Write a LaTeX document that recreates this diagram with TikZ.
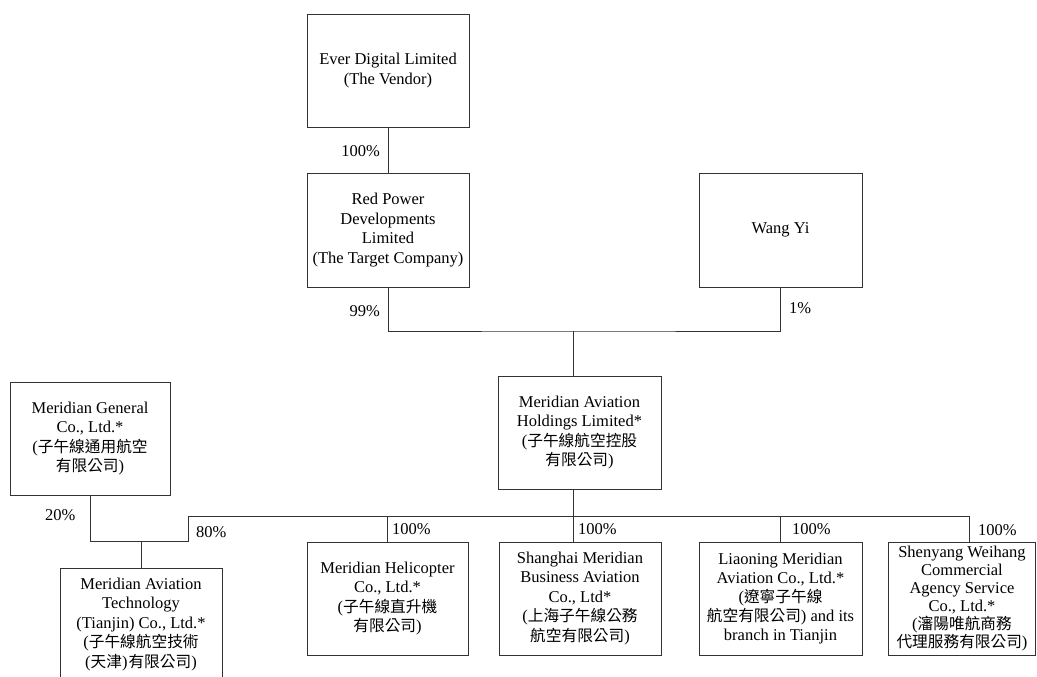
\documentclass[tikz,border=0pt]{standalone}
\usepackage{fontspec}
\setmainfont{Liberation Serif}
\newfontfamily\cjk[Scale=0.95]{Noto Sans CJK TC}

\begin{document}
\begin{tikzpicture}[x=1pt, y=-1pt]
    % Define styles
    \tikzset{
        entity/.style={
            draw=black!80,
            line width=0.8pt,
            minimum width=162pt,
            minimum height=113pt,
            align=center,
            inner sep=2pt,
            font=\fontsize{16.5}{19.5}\selectfont
        },
        link/.style={
            black!80,
            line width=0.8pt
        },
        share/.style={
            inner sep=0pt,
            font=\fontsize{16.5}{19.5}\selectfont
        }
    }

    % Page frame
    \useasboundingbox (0,0) rectangle (1037,677);
    \fill[white] (0,0) rectangle (1037,677);
    \clip (0,0) rectangle (1037,677);

    % Shareholders
    \node[entity] (ever) at (388,70.5) {Ever Digital Limited\\(The Vendor)};
    \node[entity, minimum height=114pt] (red) at (388,230) {Red Power\\Developments\\Limited\\(The Target Company)};
    \node[entity, minimum width=163pt, minimum height=114pt] (wang) at (780.5,230) {Wang Yi};

    % Holding company
    \node[entity, minimum width=163pt] (holdings) at (579.5,432.5) {Meridian Aviation\\Holdings Limited*\\({\cjk 子午線航空控股}\\{\cjk 有限公司})};
    \node[entity, minimum width=160pt] (general) at (90,438.5) {Meridian General\\Co., Ltd.*\\({\cjk 子午線通用航空}\\{\cjk 有限公司})};

    % Subsidiaries
    \node[entity] (tech) at (141,624.5) {Meridian Aviation\\Technology\\(Tianjin) Co., Ltd.*\\({\cjk 子午線航空技術}\\({\cjk 天津})\kern1pt{\cjk 有限公司})};
    \node[entity, minimum width=161pt] (heli) at (387.5,598.5) {Meridian Helicopter\\Co., Ltd.*\\({\cjk 子午線直升機}\\{\cjk 有限公司})};
    \node[entity] (shanghai) at (580,598.5) {Shanghai Meridian\\Business Aviation\\Co., Ltd*\\({\cjk 上海子午線公務}\\{\cjk 航空有限公司})};
    \node[entity, minimum width=163pt, font=\fontsize{16.5}{18.8}\selectfont] (liaoning) at (780.5,598.5) {Liaoning Meridian\\Aviation Co., Ltd.*\\({\cjk 遼寧子午線}\\{\cjk 航空有限公司}) and its\\branch in Tianjin};
    \node[entity, minimum width=147pt, inner sep=0pt, font=\fontsize{16.5}{18}\selectfont] (shenyang) at (962,598.5) {Shenyang Weihang\\Commercial\\Agency Service\\Co., Ltd.*\\({\cjk 瀋陽唯航商務}\\{\cjk 代理服務有限公司})};

    % Junctions
    \coordinate (top) at (573,331);
    \coordinate (busL) at (188,516);
    \coordinate (busR) at (969,516);
    \coordinate (kink) at (188,541);

    % Connectors
    \draw[link] (ever) -- (red);
    \draw[link] (red.south) |- (top) -| (wang.south);
    \draw[link] (top) -- (top |- holdings.north);
    \draw[link] (top |- holdings.south) -- (top |- shanghai.north);
    \draw[link] (busL) -- (busR);
    \draw[link] (heli.north) -- (heli.north |- busL);
    \draw[link] (liaoning.north) -- (liaoning.north |- busL);
    \draw[link] (busR) -- (busR |- shenyang.north);
    \draw[link] (general.south) |- (kink) -- (busL);
    \draw[link] (tech.north) -- (tech.north |- kink);

    % Percentages
    \node[share, anchor=east] (p-ever) at (380,151) {100\%};
    \node[share, anchor=east] (p-red) at (380,311) {99\%};
    \node[share, anchor=west] (p-wang) at (789,308) {1\%};
    \node[share, anchor=west] (p-general) at (45,515) {20\%};
    \node[share, anchor=west] (p-holdings) at (196,532) {80\%};
    \node[share, anchor=west] (p-heli) at (392,529) {100\%};
    \node[share, anchor=west] (p-shanghai) at (578,529) {100\%};
    \node[share, anchor=west] (p-liaoning) at (792,529) {100\%};
    \node[share, anchor=west] (p-shenyang) at (978,530) {100\%};
\end{tikzpicture}
\end{document}
